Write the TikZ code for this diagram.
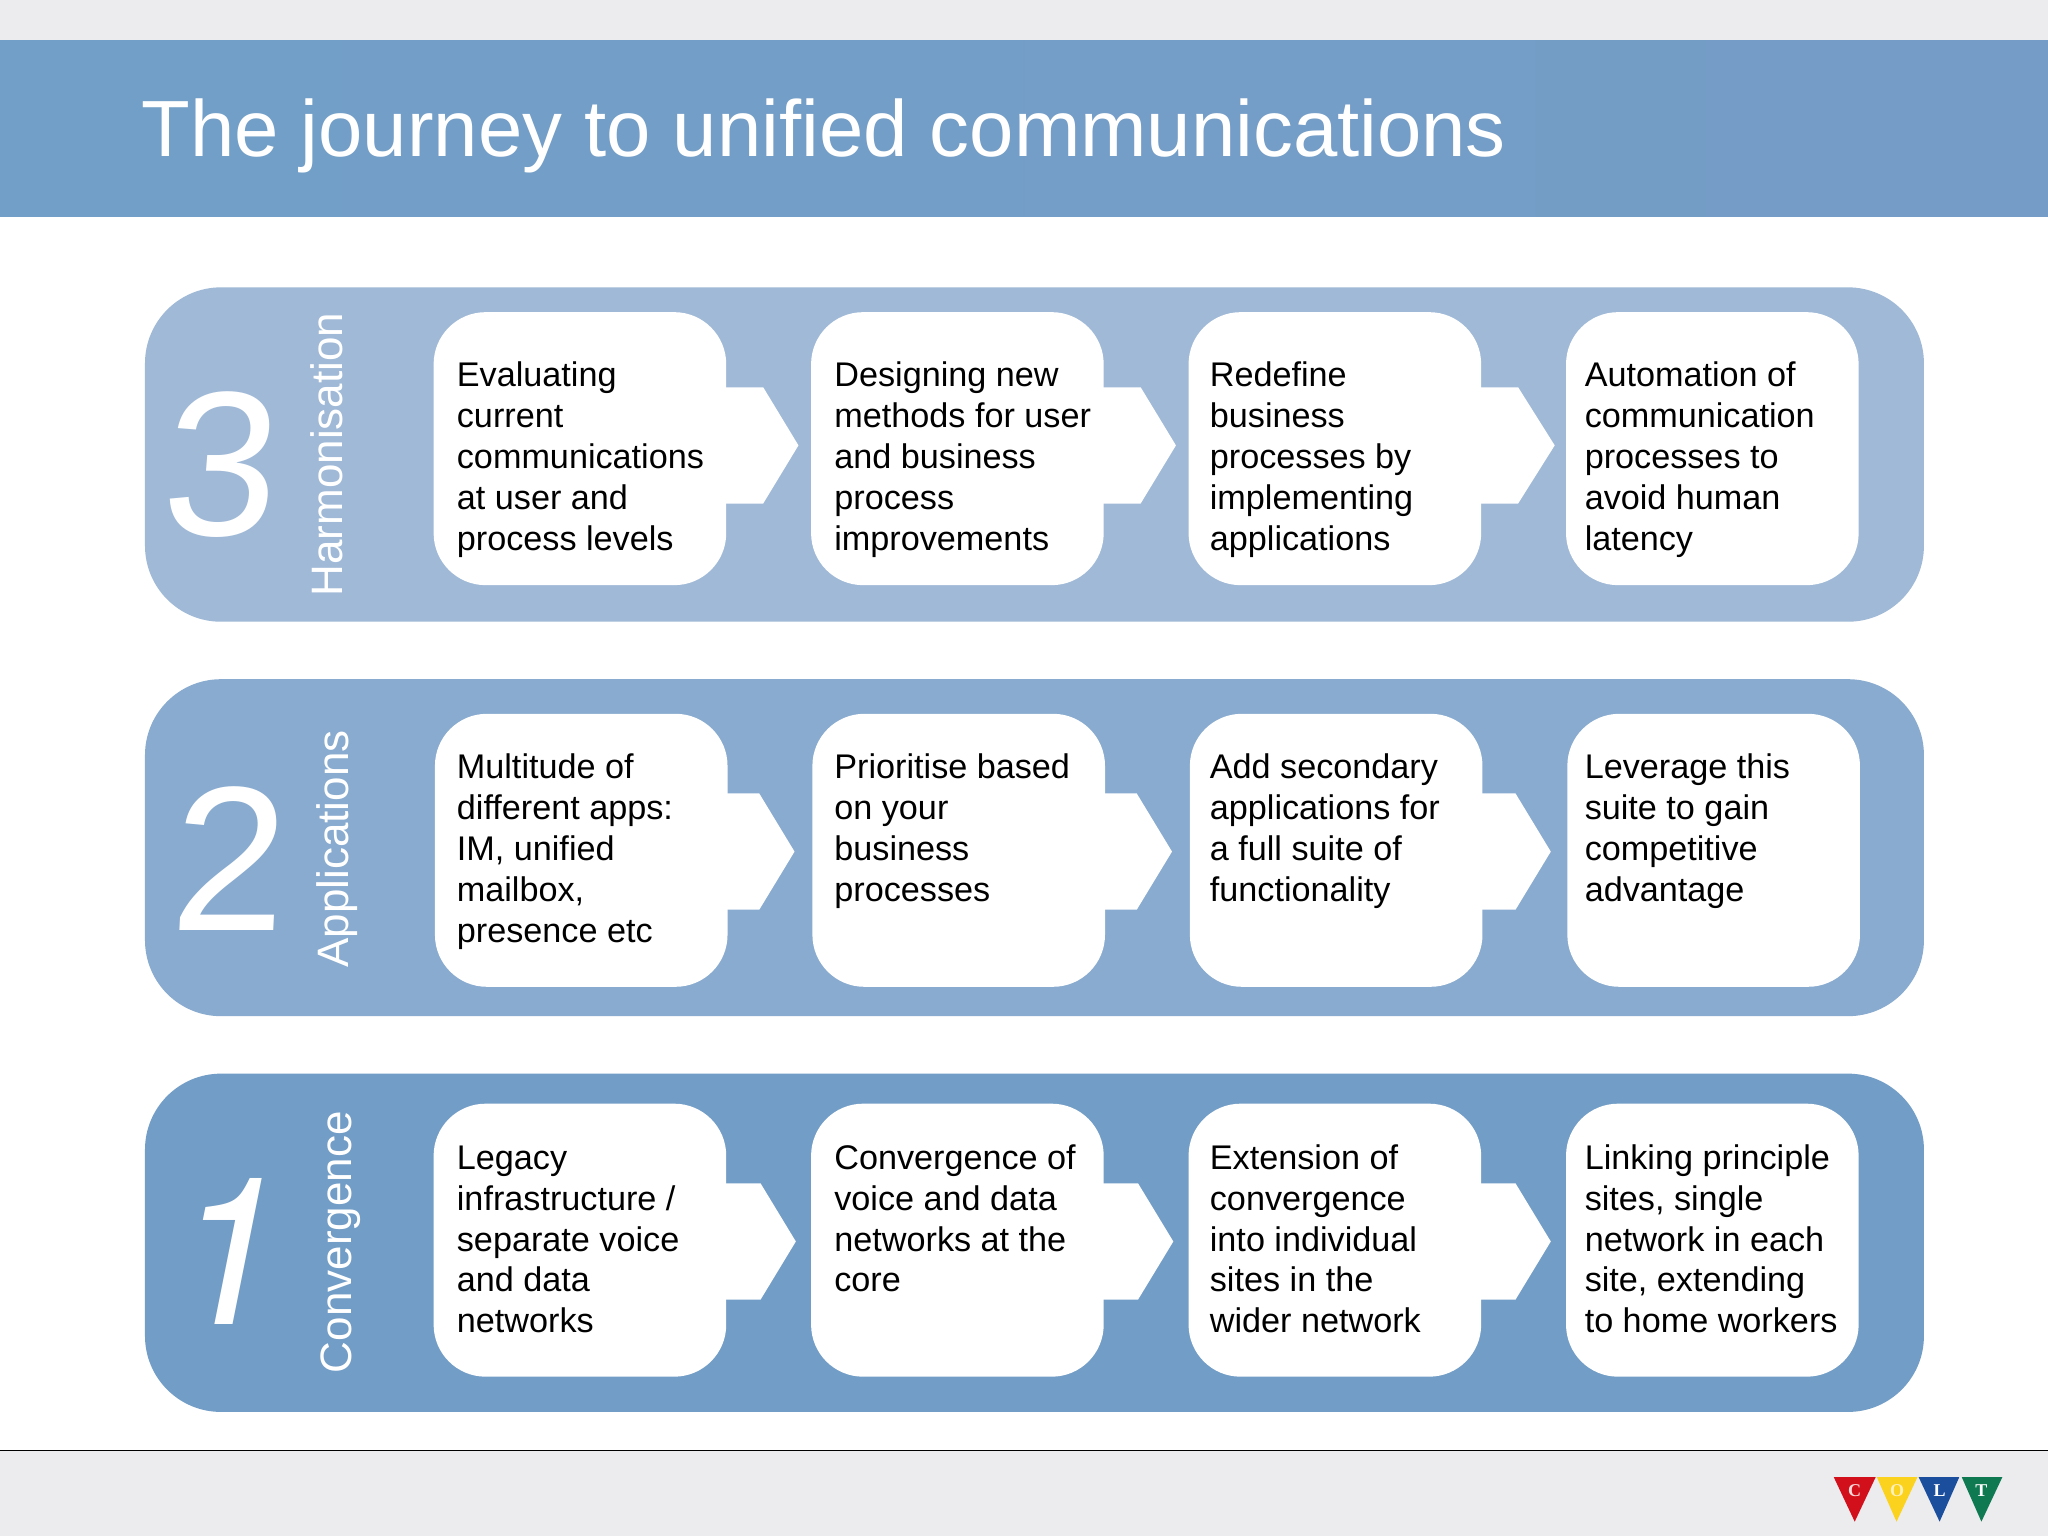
\documentclass[tikz,border=0pt]{standalone}
\usepackage{fontspec}
\setmainfont{Liberation Sans}
\newfontfamily\logofont{Liberation Serif}
\newfontfamily\herosfont{TeX Gyre Heros}
\usetikzlibrary{calc}
\definecolor{bgray}{HTML}{ECECEE}
\definecolor{bandL}{HTML}{729FC8}
\definecolor{bandR}{HTML}{759CC6}
\definecolor{panelA}{HTML}{9FB9D7}
\definecolor{panelB}{HTML}{88ABCF}
\definecolor{panelC}{HTML}{729DC6}
\definecolor{cRed}{HTML}{D2101C}
\definecolor{cYel}{HTML}{FBD21E}
\definecolor{cBlu}{HTML}{1C4E9E}
\definecolor{cGrn}{HTML}{0F7A52}
\tikzset{
  panel/.style={fill=#1,draw=none,rounded corners=38pt,inner sep=0pt},
  stepbox/.style={fill=white,draw=none,rounded corners=26pt,inner sep=0pt,minimum width=146.3pt,minimum height=136.5pt},
  steptext/.style={anchor=north west,inner sep=0pt,align=left,font=\fontsize{17.1}{20.45}\selectfont,text=black},
  sidelabel/.style={rotate=90,inner sep=0pt,text=white,font=\fontsize{22}{26}\selectfont},
  bignum/.style={inner sep=0pt,text=white,font=\fontsize{103}{106}\selectfont},
  pennant/.style={fill=#1,draw=none},
  pennantletter/.style={inner sep=0pt,text=#1,font=\fontsize{9}{9}\logofont\bfseries}
}
\newcommand{\stepat}[6]{% name, cx, cy, textx, texty, text
  \node[stepbox] (#1) at (#2,#3) {};
  \node[steptext] (#1t) at (#4,#5) {\strut #6};
}
\newcommand{\flowarrow}[4]{% from, centre offset, shoulder dx, tip dx
  \fill[white] ($(#1.east)+(-2,#2-44.5)$) -- ($(#1.east)+(#3,#2-44.5)$)
    -- ($(#1.east)+(#4,#2)$) -- ($(#1.east)+(#3,#2+44.5)$)
    -- ($(#1.east)+(-2,#2+44.5)$) -- cycle;
}
\begin{document}
\begin{tikzpicture}[x=0.65306pt,y=-0.65306pt]
\useasboundingbox (0,0) rectangle (1568,1176);
\fill[white] (0,0) rectangle (1568,1176);
\fill[bgray] (0,0) rectangle (1568,31);
\fill[left color=bandL,right color=bandR] (0,31) rectangle (1568,166);
\node[anchor=base west,inner sep=0pt,text=white,font=\fontsize{39.85}{48}\selectfont] (title) at (108,120) {The journey to unified communications};
\fill[bgray] (0,1110) rectangle (1568,1176);
\draw[black,line width=0.6pt] (0,1110.5) -- (1568,1110.5);

% panels
\fill[panel=panelA] (111,220) rectangle (1473,476);
\fill[panel=panelB] (111,520) rectangle (1473,778);
\fill[panel=panelC] (111,822) rectangle (1473,1081);

% big numbers and side labels
\node[bignum,xslant=0.08] (n3) at (170,356) {3};
\node[bignum,xslant=0.05] (n2) at (176,657.5) {2};
\node[bignum,xslant=0.2,font=\fontsize{103}{106}\herosfont] (n1) at (179,958) {1};
\node[sidelabel] (s3) at (250,348) {Harmonisation};
\node[sidelabel] (s2) at (258,650) {Applications};
\node[sidelabel] (s1) at (261,951) {Convergence};

% row 3
\stepat{a1}{444}{343.5}{349.5}{274}{Evaluating\\current\\communications\\at user and\\process levels}
\stepat{a2}{733}{343.5}{638.5}{274}{Designing new\\methods for user\\and business\\process\\improvements}
\stepat{a3}{1022}{343.5}{926}{274}{Redefine\\business\\processes by\\implementing\\applications}
\stepat{a4}{1311}{343.5}{1213}{274}{Automation of\\communication\\processes to\\avoid human\\latency}
\flowarrow{a1}{-2.5}{28}{55}
\flowarrow{a2}{-2.5}{28}{55}
\flowarrow{a3}{-2.5}{28}{56}

% row 2
\stepat{b1}{445}{651}{349.5}{574}{Multitude of\\different apps:\\IM, unified\\mailbox,\\presence etc}
\stepat{b2}{734}{651}{638.5}{574}{Prioritise based\\on your\\business\\processes}
\stepat{b3}{1023}{651}{926}{574}{Add secondary\\applications for\\a full suite of\\functionality}
\stepat{b4}{1312}{651}{1213}{574}{Leverage this\\suite to gain\\competitive\\advantage}
\flowarrow{b1}{1}{24}{51}
\flowarrow{b2}{1}{24}{51}
\flowarrow{b3}{1}{25}{52}

% row 1
\stepat{c1}{444}{949.5}{349.5}{873}{Legacy\\infrastructure /\\separate voice\\and data\\networks}
\stepat{c2}{733}{949.5}{638.5}{873}{Convergence of\\voice and data\\networks at the\\core}
\stepat{c3}{1022}{949.5}{926}{873}{Extension of\\convergence\\into individual\\sites in the\\wider network}
\stepat{c4}{1311}{949.5}{1213}{873}{Linking principle\\sites, single\\network in each\\site, extending\\to home workers}
\flowarrow{c1}{1}{26}{53}
\flowarrow{c2}{1}{26}{53}
\flowarrow{c3}{1}{26}{53}

% logo
\fill[pennant=cRed] (1404,1131) -- (1436,1131) -- (1420,1165) -- cycle;
\fill[pennant=cYel] (1437,1131) -- (1468,1131) -- (1452,1165) -- cycle;
\fill[pennant=cBlu] (1469,1131) -- (1500,1131) -- (1485,1165) -- cycle;
\fill[pennant=cGrn] (1502,1131) -- (1533,1131) -- (1517,1165) -- cycle;
\node[pennantletter=white!85!cRed] (lc) at (1420,1141) {C};
\node[pennantletter=white!70!cYel] (lo) at (1452.5,1141) {O};
\node[pennantletter=white] (ll) at (1485,1141) {L};
\node[pennantletter=white] (lt) at (1517,1141) {T};
\end{tikzpicture}
\end{document}
